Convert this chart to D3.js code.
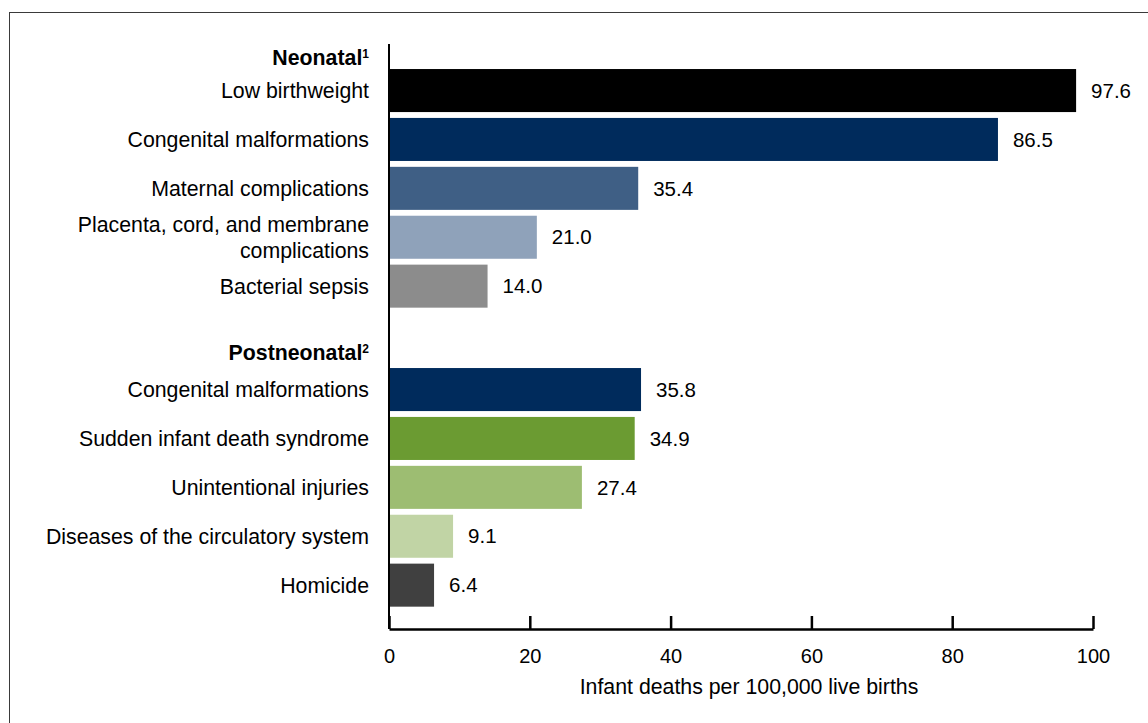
<!DOCTYPE html>
<html>
<head>
<meta charset="utf-8">
<script src="https://cdn.jsdelivr.net/npm/d3@7"></script>
<style>
  body { margin: 0; background: #fff; }
  svg { font-family: "Liberation Sans", Arial, sans-serif; }
</style>
</head>
<body>
<div id="chart"></div>
<script>
// Leading causes of infant death, rates per 100,000 live births
var neonatalCauses = ["Low birthweight", "Congenital malformations", "Maternal complications",
  "Placenta, cord, and membrane complications", "Bacterial sepsis"];
var neonatalRates = [97.6, 86.5, 35.4, 21.0, 14.0];

var postneonatalCauses = ["Congenital malformations", "Sudden infant death syndrome",
  "Unintentional injuries", "Diseases of the circulatory system", "Homicide"];
var postneonatalRates = [35.8, 34.9, 27.4, 9.1, 6.4];

var groupTitles = ["Neonatal", "Postneonatal"];
var groupNotes = ["1", "2"];
var xTicks = [0, 20, 40, 60, 80, 100];
var xTitle = "Infant deaths per 100,000 live births";

var neonatalColors = ["#000000", "#002b5c", "#3f5f85", "#8fa2ba", "#8c8c8c"];
var postneonatalColors = ["#002b5c", "#6b9b32", "#9dbd72", "#c1d4a5", "#404040"];

var width = 1148, height = 723;

var svg = d3.select("#chart").append("svg")
  .attr("width", width)
  .attr("height", height);

// frame (runs off the right and bottom edges)
svg.append("rect")
  .attr("x", 9.5).attr("y", 12.5)
  .attr("width", 1200).attr("height", 800)
  .attr("fill", "none")
  .attr("stroke", "#3a3a3a")
  .attr("stroke-width", 1);

var x = d3.scaleLinear().domain([0, 100]).range([389, 1093]);

var groups = [
  {title: groupTitles[0], note: groupNotes[0], causes: neonatalCauses, rates: neonatalRates, colors: neonatalColors,
   y: d3.scaleBand().domain(d3.range(5)).range([66.1, 310.6]).paddingInner(0.12).paddingOuter(0.06), titleY: 65},
  {title: groupTitles[1], note: groupNotes[1], causes: postneonatalCauses, rates: postneonatalRates, colors: postneonatalColors,
   y: d3.scaleBand().domain(d3.range(5)).range([365.1, 609.6]).paddingInner(0.12).paddingOuter(0.06), titleY: 360}
];

var labelRight = 369;

function wrap(textSel, maxWidth) {
  textSel.each(function() {
    var text = d3.select(this);
    var words = text.text().split(/\s+/);
    var yc = +text.attr("y");
    text.text(null);
    var lines = [], line = [];
    var probe = text.append("tspan");
    words.forEach(function(w) {
      line.push(w);
      probe.text(line.join(" "));
      if (probe.node().getComputedTextLength() > maxWidth && line.length > 1) {
        line.pop();
        lines.push(line.join(" "));
        line = [w];
      }
    });
    lines.push(line.join(" "));
    probe.remove();
    var lh = 26;
    lines.forEach(function(l, i) {
      text.append("tspan")
        .attr("x", text.attr("x"))
        .attr("y", yc + (i - (lines.length - 1) / 2) * lh)
        .attr("dy", "0.35em")
        .text(l);
    });
  });
}

groups.forEach(function(g) {
  var rows = d3.range(g.causes.length);

  var head = svg.append("text")
    .attr("x", labelRight)
    .attr("y", g.titleY)
    .attr("text-anchor", "end")
    .attr("font-size", "21.3px")
    .attr("font-weight", "bold")
    .attr("fill", "#000");
  head.append("tspan").text(g.title);
  head.append("tspan").attr("font-size", "12px").attr("dy", "-7").text(g.note);

  svg.append("g").selectAll("rect")
    .data(rows)
    .enter()
    .append("rect")
    .attr("x", x(0))
    .attr("y", function(i) { return g.y(i); })
    .attr("width", function(i) { return x(g.rates[i]) - x(0); })
    .attr("height", g.y.bandwidth())
    .attr("fill", function(i) { return g.colors[i]; });

  svg.append("g").selectAll("text")
    .data(rows)
    .enter()
    .append("text")
    .attr("x", function(i) { return x(g.rates[i]) + 15; })
    .attr("y", function(i) { return g.y(i) + g.y.bandwidth() / 2; })
    .attr("dy", "0.35em")
    .attr("font-size", "20.5px")
    .attr("fill", "#000")
    .text(function(i) { return g.rates[i].toFixed(1); });

  svg.append("g").selectAll("text")
    .data(rows)
    .enter()
    .append("text")
    .attr("x", labelRight)
    .attr("y", function(i) { return g.y(i) + g.y.bandwidth() / 2; })
    .attr("text-anchor", "end")
    .attr("font-size", "21.3px")
    .attr("fill", "#000")
    .text(function(i) { return g.causes[i]; })
    .call(wrap, 340);
});

// axes
svg.append("line")
  .attr("x1", x(0)).attr("x2", x(0))
  .attr("y1", 44).attr("y2", 629)
  .attr("stroke", "#000")
  .attr("stroke-width", 2);

var xAxis = svg.append("g")
  .attr("transform", "translate(0,629)")
  .call(d3.axisBottom(x).tickValues(xTicks).tickFormat(d3.format("d"))
    .tickSizeInner(-13).tickSizeOuter(0).tickPadding(20));
xAxis.select(".domain").attr("stroke", "#000").attr("stroke-width", 2.5);
xAxis.selectAll(".tick line").attr("stroke", "#000").attr("stroke-width", 2.5);
xAxis.selectAll(".tick text")
  .attr("font-size", "20px")
  .attr("font-family", "Liberation Sans, Arial, sans-serif")
  .attr("fill", "#000");

svg.append("text")
  .attr("x", 749)
  .attr("y", 694)
  .attr("text-anchor", "middle")
  .attr("font-size", "21.3px")
  .attr("fill", "#000")
  .text(xTitle);
</script>
</body>
</html>
